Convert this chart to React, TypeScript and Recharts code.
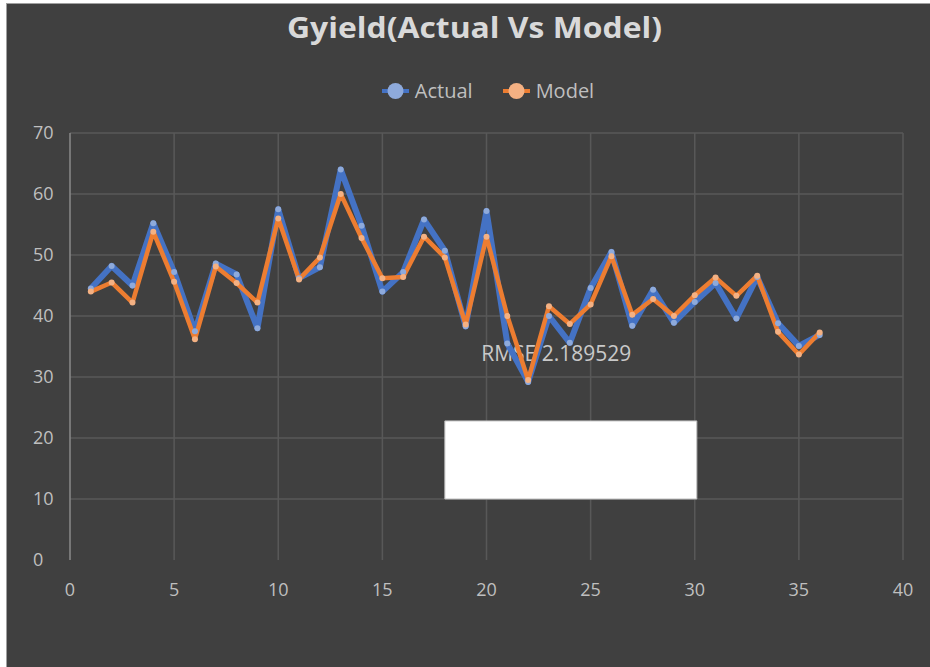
import React from 'react';
import { LineChart, Line, XAxis, YAxis, CartesianGrid, ReferenceArea, ReferenceDot } from 'recharts';

// x positions (sample number)
const sampleNo = [1, 2, 3, 4, 5, 6, 7, 8, 9, 10, 11, 12, 13, 14, 15, 16, 17, 18, 19, 20, 21, 22, 23, 24, 25, 26, 27, 28, 29, 30, 31, 32, 33, 34, 35, 36];

const actualYield = [44.5, 48.2, 45, 55.2, 47.2, 37.5, 48.6, 46.8, 38, 57.5, 46.2, 48, 64, 54.8, 44, 47.2, 55.8, 50.7, 38.3, 57.2, 35.5, 29.2, 40, 35.6, 44.6, 50.5, 38.4, 44.3, 38.9, 42.3, 45.4, 39.6, 46.4, 38.8, 35.1, 36.9];
const modelYield = [44, 45.5, 42.2, 53.8, 45.6, 36.2, 48.1, 45.4, 42.2, 56, 46, 49.6, 60, 52.8, 46.2, 46.4, 53, 49.6, 38.6, 53, 40, 29.5, 41.6, 38.7, 41.9, 49.8, 40.2, 42.8, 40, 43.4, 46.3, 43.3, 46.6, 37.4, 33.7, 37.3];

const xTicks = [0, 5, 10, 15, 20, 25, 30, 35, 40];
const yTicks = [0, 10, 20, 30, 40, 50, 60, 70];

const chartTitle = 'Gyield(Actual Vs Model)';
const rmseText = 'RMSE 2.189529';

const series = [
  { key: 'actual', name: 'Actual', color: '#4472c4', light: '#8eaadb', width: 6 },
  { key: 'model', name: 'Model', color: '#ed7d31', light: '#f4b183', width: 4.5 },
];

const data = sampleNo.map((x, i) => ({ x, actual: actualYield[i], model: modelYield[i] }));

const FONT = "'Open Sans', 'DejaVu Sans', sans-serif";
const LABEL = '#bfbfbf';

const YTick = (props: any) => {
  const { x, y, payload } = props;
  return (
    <text x={x - 29} y={y} dy="0.35em" textAnchor="start" fill={LABEL} fontSize={18} fontFamily={FONT}>
      {payload.value}
    </text>
  );
};

const XTick = (props: any) => {
  const { x, y, payload } = props;
  return (
    <text x={x} y={y + 22} dy="0.35em" textAnchor="middle" fill={LABEL} fontSize={18} fontFamily={FONT}>
      {payload.value}
    </text>
  );
};

// RMSE note: drawn by the reference dot so it sits under the series lines
const RmseNote = (props: any) => (
  <text x={props.cx} y={props.cy} dy="0.35em" textAnchor="middle" fill="#c9c9c9" fontSize={21} fontFamily={FONT}>
    {rmseText}
  </text>
);

const LegendRow = () => (
  <div style={{ position: 'absolute', top: 77, left: 0, width: 930, display: 'flex', justifyContent: 'center', gap: 30, paddingLeft: 46, boxSizing: 'border-box' }}>
    {series.map(s => (
      <div key={s.key} style={{ display: 'flex', alignItems: 'center' }}>
        <svg width={27} height={20} style={{ marginRight: 6 }}>
          <line x1={0} y1={10} x2={27} y2={10} stroke={s.color} strokeWidth={4} />
          <circle cx={13.5} cy={10} r={8} fill={s.light} />
        </svg>
        <span style={{ color: LABEL, fontSize: 20, fontFamily: FONT }}>{s.name}</span>
      </div>
    ))}
  </div>
);

export default function App() {
  return (
    <div style={{ position: 'fixed', left: 0, top: 0, width: 930, height: 667, background: '#ffffff', overflow: 'hidden' }}>
      <div style={{ position: 'absolute', left: 6, top: 3, width: 930, height: 670, background: '#404040', borderTop: '1px solid #a0a0a0', borderLeft: '1px solid #a0a0a0' }} />
      <svg style={{ position: 'absolute', left: 0, top: 0 }} width={930} height={60}>
        <text x={474.5} y={38} textAnchor="middle" fill="#d9d9d9" fontSize={29} fontWeight={700} fontFamily={FONT} textLength={375} lengthAdjust="spacingAndGlyphs">
          {chartTitle}
        </text>
      </svg>
      <LegendRow />
      <div style={{ position: 'absolute', left: 0, top: 0 }}>
        <LineChart width={930} height={667} data={data} margin={{ top: 133, right: 27, bottom: 67, left: 30 }}>
          <CartesianGrid stroke="#585858" strokeWidth={1.5} horizontalValues={[10, 20, 30, 40, 50, 60, 70]} verticalValues={[5, 10, 15, 20, 25, 30, 35, 40]} />
          <XAxis dataKey="x" type="number" domain={[0, 40]} ticks={xTicks} axisLine={false} tickLine={false} height={40} tick={<XTick />} interval={0} />
          <YAxis type="number" domain={[0, 70]} ticks={yTicks} axisLine={{ stroke: '#8a8a8a', strokeWidth: 1.5 }} tickLine={false} width={40} tick={<YTick />} interval={0} />
          <ReferenceArea x1={18} x2={30.1} y1={10} y2={22.8} fill="#ffffff" fillOpacity={1} stroke="#bdbdbd" />
          <ReferenceDot x={23.35} y={33.9} r={0} shape={<RmseNote />} zIndex={300} />
          {series.map(s => (
            <Line
              key={s.key}
              dataKey={s.key}
              name={s.name}
              type="linear"
              stroke={s.color}
              strokeWidth={s.width}
              strokeLinejoin="round"
              dot={{ r: 3, fill: s.light, stroke: 'none' }}
              isAnimationActive={false}
            />
          ))}
        </LineChart>
      </div>
    </div>
  );
}
